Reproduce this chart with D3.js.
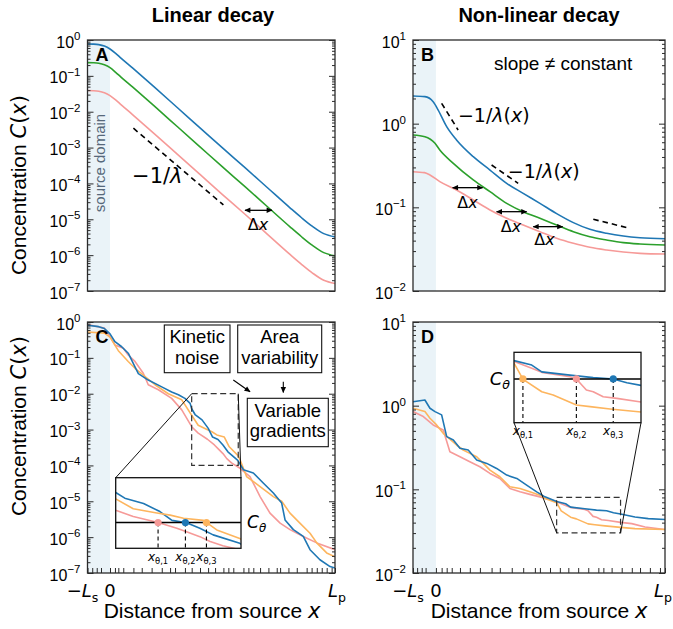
<!DOCTYPE html>
<html>
<head>
<meta charset="utf-8">
<script src="https://cdn.jsdelivr.net/npm/d3@7.9.0/dist/d3.min.js"></script>
<style>
  body { margin: 0; background: #fff; }
  svg text { font-family: "Liberation Sans", Arial, Helvetica, sans-serif; fill: #000; }
</style>
</head>
<body>
<script>
// x is position in units of L_p (source starts at -L_s = -0.1), values are log10 C(x)

// A: linear decay
const xA = [-0.1, -0.075, -0.05, -0.025, 0, 0.025, 0.05, 0.1, 0.2, 0.3, 0.4, 0.5, 0.6, 0.7, 0.8, 0.85, 0.9, 0.95, 1.0];
const aBlue = [-0.11, -0.115, -0.13, -0.17, -0.25, -0.37, -0.51, -0.78, -1.33, -1.89, -2.45, -3.01, -3.56, -4.12, -4.68, -4.95, -5.20, -5.40, -5.49];
const aGreen = [-0.63, -0.635, -0.65, -0.69, -0.77, -0.90, -1.04, -1.31, -1.86, -2.42, -2.98, -3.54, -4.09, -4.65, -5.21, -5.48, -5.73, -5.93, -6.02];
const aPink = [-1.41, -1.415, -1.43, -1.47, -1.55, -1.67, -1.81, -2.08, -2.63, -3.19, -3.75, -4.31, -4.86, -5.42, -5.98, -6.25, -6.50, -6.70, -6.79];

// B: non-linear decay
const bBlue = [[-0.1, 0.331], [-0.048, 0.323], [-0.012, 0.263], [0.010, 0.163], [0.047, -0.036], [0.090, -0.195], [0.163, -0.395], [0.236, -0.554], [0.309, -0.713], [0.381, -0.833], [0.454, -0.952], [0.527, -1.075], [0.600, -1.183], [0.672, -1.263], [0.745, -1.31], [0.818, -1.343], [0.891, -1.363], [1.0, -1.375]];
const bGreen = [[-0.1, -0.135], [-0.048, -0.156], [-0.004, -0.235], [0.017, -0.315], [0.076, -0.474], [0.163, -0.673], [0.236, -0.813], [0.309, -0.952], [0.381, -1.052], [0.454, -1.131], [0.527, -1.211], [0.600, -1.291], [0.672, -1.351], [0.745, -1.390], [0.818, -1.422], [0.891, -1.438], [1.0, -1.450]];
const bPink = [[-0.1, -0.574], [-0.05, -0.585], [-0.026, -0.613], [0.017, -0.693], [0.090, -0.793], [0.163, -0.912], [0.236, -1.032], [0.309, -1.131], [0.381, -1.211], [0.454, -1.291], [0.527, -1.370], [0.600, -1.430], [0.672, -1.478], [0.745, -1.510], [0.818, -1.534], [0.891, -1.550], [1.0, -1.558]];

// C: noisy linear decay
const cBlue = [[-0.1, -0.09], [-0.05, -0.13], [-0.025, -0.18], [0, -0.33], [0.022, -0.55], [0.052, -0.69], [0.081, -0.87], [0.111, -1.25], [0.126, -1.44], [0.170, -1.62], [0.230, -1.81], [0.274, -1.95], [0.304, -2.03], [0.333, -2.13], [0.356, -2.27], [0.363, -2.42], [0.378, -2.58], [0.409, -2.73], [0.436, -2.96], [0.456, -3.21], [0.480, -3.275], [0.502, -3.43], [0.524, -3.62], [0.568, -3.86], [0.593, -4.12], [0.637, -4.21], [0.681, -4.49], [0.726, -4.77], [0.763, -5.05], [0.778, -5.52], [0.815, -5.79], [0.859, -5.98], [0.889, -6.35], [0.933, -6.63], [0.978, -6.82], [1.0, -6.86]];
const cOrange = [[-0.1, -0.28], [-0.025, -0.31], [0, -0.42], [0.037, -0.80], [0.081, -1.10], [0.111, -1.29], [0.156, -1.52], [0.2, -1.75], [0.259, -2.0], [0.319, -2.17], [0.363, -2.60], [0.392, -2.88], [0.431, -3.0], [0.453, -3.06], [0.475, -3.15], [0.508, -3.21], [0.530, -3.48], [0.568, -3.72], [0.578, -3.84], [0.607, -4.31], [0.667, -4.59], [0.726, -4.87], [0.763, -5.0], [0.8, -5.33], [0.844, -5.61], [0.889, -5.89], [0.919, -6.16], [0.963, -6.44], [1.0, -6.55]];
const cPink = [[-0.1, -0.07], [-0.025, -0.17], [0, -0.41], [0.022, -0.64], [0.059, -0.73], [0.081, -0.92], [0.111, -1.10], [0.148, -1.43], [0.170, -1.75], [0.215, -1.89], [0.274, -2.13], [0.319, -2.45], [0.363, -2.92], [0.392, -3.10], [0.433, -3.27], [0.464, -3.43], [0.480, -3.53], [0.502, -3.67], [0.519, -3.81], [0.540, -3.93], [0.578, -4.08], [0.622, -4.31], [0.667, -4.87], [0.711, -5.33], [0.756, -5.61], [0.8, -5.79], [0.859, -5.98], [0.919, -6.16], [1.0, -6.35]];

// D: noisy non-linear decay
const dBlue = [[-0.1, 0.047], [-0.048, 0.068], [-0.026, -0.031], [-0.004, -0.071], [0.025, -0.11], [0.047, -0.37], [0.076, -0.41], [0.105, -0.51], [0.141, -0.53], [0.178, -0.65], [0.222, -0.69], [0.265, -0.75], [0.309, -0.83], [0.353, -0.87], [0.396, -0.95], [0.440, -1.03], [0.476, -1.09], [0.527, -1.145], [0.566, -1.172], [0.588, -1.213], [0.650, -1.233], [0.701, -1.248], [0.745, -1.256], [0.775, -1.279], [0.806, -1.295], [0.869, -1.33], [0.927, -1.35], [1.0, -1.36]];
const dOrange = [[-0.1, -0.03], [-0.048, -0.07], [-0.026, -0.15], [0.003, -0.23], [0.032, -0.33], [0.061, -0.40], [0.090, -0.47], [0.119, -0.53], [0.148, -0.57], [0.178, -0.61], [0.207, -0.69], [0.236, -0.77], [0.279, -0.85], [0.323, -0.97], [0.367, -0.99], [0.410, -1.03], [0.454, -1.07], [0.476, -1.11], [0.527, -1.16], [0.547, -1.258], [0.588, -1.333], [0.613, -1.353], [0.664, -1.413], [0.694, -1.423], [0.738, -1.437], [0.806, -1.455], [0.869, -1.47], [1.0, -1.48]];
const dPink = [[-0.1, -0.07], [-0.055, -0.13], [-0.012, -0.23], [0.032, -0.29], [0.061, -0.55], [0.105, -0.61], [0.148, -0.67], [0.192, -0.73], [0.236, -0.81], [0.279, -0.87], [0.323, -0.99], [0.367, -1.03], [0.410, -1.06], [0.454, -1.09], [0.498, -1.12], [0.529, -1.152], [0.566, -1.192], [0.588, -1.216], [0.650, -1.242], [0.664, -1.256], [0.686, -1.323], [0.701, -1.333], [0.723, -1.363], [0.753, -1.373], [0.806, -1.395], [0.855, -1.41], [0.913, -1.45], [1.0, -1.48]];

// threshold levels and zoom windows (log10)
const thetaC = -3.27;
const thetaD = -1.256;
const zoomC = { x: [0.363, 0.570], v: [-4, -2] };
const zoomD = { x: [0.527, 0.806], v: [-1.52, -1.095] };

// x tick positions along the bottom of C and D
const ticksC = [-0.1, -0.079, -0.059, -0.04, 0, 0.022, 0.037, 0.059, 0.104, 0.141, 0.185, 0.230, 0.267, 0.289, 0.333, 0.363, 0.4, 0.436, 0.467, 0.504, 0.526, 0.548, 0.593, 0.615, 0.637, 0.667, 0.704, 0.741, 0.756, 0.793, 0.830, 0.874, 0.896, 0.919, 0.941, 0.963, 0.985, 1.0];
const ticksD = [-0.1, -0.082, -0.062, -0.045, 0, 0.025, 0.047, 0.069, 0.105, 0.148, 0.192, 0.243, 0.279, 0.331, 0.381, 0.432, 0.454, 0.498, 0.541, 0.578, 0.621, 0.665, 0.709, 0.731, 0.767, 0.811, 0.855, 0.891, 0.934, 0.978, 1.0];

const BLUE = '#1f77b4', GREEN = '#2ca02c', PINK = '#f69a98', ORANGE = '#fdb55e';
const SHADE = '#eaf3f8', FRAME = '#2b2b2b';
const MATH = '"DejaVu Sans", sans-serif';

const svg = d3.select('body').append('svg').attr('width', 673).attr('height', 629);
const defs = svg.append('defs');
defs.append('marker').attr('id', 'ah')
  .attr('viewBox', '0 0 10 10').attr('refX', 9).attr('refY', 5)
  .attr('markerWidth', 7).attr('markerHeight', 6).attr('markerUnits', 'userSpaceOnUse')
  .attr('orient', 'auto-start-reverse')
  .append('path').attr('d', 'M0,0.5 L10,5 L0,9.5 z').attr('fill', '#000');

// text with italic / sub / superscript pieces
function rich(g, x, y, size, parts, anchor = 'start', family = MATH) {
  const t = g.append('text').attr('x', x).attr('y', y).attr('font-size', size)
    .attr('text-anchor', anchor).style('font-family', family);
  let shift = 0;
  parts.forEach(([s, kind = '']) => {
    const sp = t.append('tspan').text(s);
    let target = 0;
    if (kind.includes('sub')) { target = size * 0.25; sp.attr('font-size', size * 0.7); }
    if (kind.includes('sup')) { target = -size * 0.45; sp.attr('font-size', size * 0.7); }
    if (target !== shift) { sp.attr('dy', target - shift); shift = target; }
    if (kind.includes('it')) sp.attr('font-style', 'italic');
  });
  return t;
}

function panel(key, box, exps) {
  const [x0, y0, x1, y1] = box;
  const x = d3.scaleLinear().domain([-0.1, 1]).range([x0, x1]);
  const y = d3.scaleLog().domain([10 ** exps[0], 10 ** exps[1]]).range([y1, y0]);
  const g = svg.append('g');
  defs.append('clipPath').attr('id', 'clip' + key).append('rect')
    .attr('x', x0).attr('y', y0).attr('width', x1 - x0).attr('height', y1 - y0);
  g.append('rect').attr('x', x(-0.1)).attr('y', y0)
    .attr('width', x(0) - x(-0.1)).attr('height', y1 - y0).attr('fill', SHADE);
  const plot = g.append('g').attr('clip-path', `url(#clip${key})`);
  const over = svg.append('g');
  return { key, x, y, g, plot, over, box, exps };
}

function finishPanel(p, letter, xticks) {
  const [x0, y0, x1, y1] = p.box;
  const ax = svg.append('g').attr('color', FRAME);
  const majors = d3.range(p.exps[0], p.exps[1] + 1).map(e => 10 ** e);
  const minors = p.y.ticks().filter(v => !majors.some(m => Math.abs(v / m - 1) < 1e-6));
  const add = (vals, len) => {
    ax.append('g').attr('transform', `translate(${x0},0)`)
      .call(d3.axisRight(p.y).tickValues(vals).tickSize(len).tickFormat(''))
      .call(s => s.select('.domain').remove());
    ax.append('g').attr('transform', `translate(${x1},0)`)
      .call(d3.axisLeft(p.y).tickValues(vals).tickSize(len).tickFormat(''))
      .call(s => s.select('.domain').remove());
  };
  add(majors, 6);
  add(minors, 3);
  if (xticks) {
    ax.append('g').attr('transform', `translate(0,${y1})`)
      .call(d3.axisTop(p.x).tickValues(xticks).tickSize(5).tickFormat(''))
      .call(s => s.select('.domain').remove());
  }
  ax.selectAll('line').attr('stroke-width', 1);
  ax.append('rect').attr('x', x0).attr('y', y0).attr('width', x1 - x0).attr('height', y1 - y0)
    .attr('fill', 'none').attr('stroke', FRAME).attr('stroke-width', 1.3);
  majors.forEach((m, i) => {
    const e = p.exps[0] + i;
    const t = ax.append('text').attr('x', x0 - 7).attr('y', p.y(m) + 7.5)
      .attr('text-anchor', 'end').attr('font-size', 16);
    t.append('tspan').text('10');
    t.append('tspan').attr('dy', -7.5).attr('font-size', 11.5).text(e < 0 ? '\u2212' + (-e) : e);
  });
  ax.append('text').attr('x', x0 + 8).attr('y', y0 + 21).attr('font-size', 18)
    .attr('font-weight', 'bold').text(letter);
}

const pts = (xs, vs) => xs.map((v, i) => [v, vs[i]]);
function drawLine(g, xs, ys, data, color, curve = d3.curveLinear) {
  g.append('path').datum(data)
    .attr('d', d3.line().x(d => xs(d[0])).y(d => ys(10 ** d[1])).curve(curve))
    .attr('fill', 'none').attr('stroke', color).attr('stroke-width', 1.6)
    .attr('stroke-linejoin', 'round');
}
function dashed(g, p, a, b) {
  g.append('line').attr('x1', p.x(a[0])).attr('y1', p.y(10 ** a[1]))
    .attr('x2', p.x(b[0])).attr('y2', p.y(10 ** b[1]))
    .attr('stroke', '#000').attr('stroke-width', 1.6).attr('stroke-dasharray', '5.5,4');
}
function dxArrow(g, p, xa, xb, v) {
  g.append('line').attr('x1', p.x(xa)).attr('x2', p.x(xb))
    .attr('y1', p.y(10 ** v)).attr('y2', p.y(10 ** v))
    .attr('stroke', '#000').attr('stroke-width', 1.3)
    .attr('marker-start', 'url(#ah)').attr('marker-end', 'url(#ah)');
}
function crossing(series, level) {
  for (let i = 1; i < series.length; i++) {
    const [xa, va] = series[i - 1], [xb, vb] = series[i];
    if (va >= level && vb <= level) return va === vb ? xa : xa + (va - level) / (va - vb) * (xb - xa);
  }
  return null;
}

function inset(p, rect, zoom, series, level, side, thetaLabelLeft) {
  const [ix0, iy0, ix1, iy1] = rect;
  const xs = d3.scaleLinear().domain(zoom.x).range([ix0, ix1]);
  const ys = d3.scaleLog().domain([10 ** zoom.v[0], 10 ** zoom.v[1]]).range([iy1, iy0]);
  const g = p.over;
  // zoom window in the main axes
  const bx0 = p.x(zoom.x[0]), bx1 = p.x(zoom.x[1]);
  const byTop = p.y(10 ** zoom.v[1]), byBot = p.y(10 ** zoom.v[0]);
  g.append('rect').attr('x', bx0).attr('y', byTop).attr('width', bx1 - bx0).attr('height', byBot - byTop)
    .attr('fill', 'none').attr('stroke', '#333').attr('stroke-width', 1.2).attr('stroke-dasharray', '6,3.5');
  const by = side === 'top' ? byTop : byBot, iy = side === 'top' ? iy0 : iy1;
  g.append('line').attr('x1', bx0).attr('y1', by).attr('x2', ix0).attr('y2', iy).attr('stroke', '#111').attr('stroke-width', 1);
  g.append('line').attr('x1', bx1).attr('y1', by).attr('x2', ix1).attr('y2', iy).attr('stroke', '#111').attr('stroke-width', 1);

  g.append('rect').attr('x', ix0).attr('y', iy0).attr('width', ix1 - ix0).attr('height', iy1 - iy0).attr('fill', '#fff');
  defs.append('clipPath').attr('id', 'inset' + p.key).append('rect')
    .attr('x', ix0).attr('y', iy0).attr('width', ix1 - ix0).attr('height', iy1 - iy0);
  const ig = g.append('g').attr('clip-path', `url(#inset${p.key})`);
  series.forEach(([data, color]) => drawLine(ig, xs, ys, data, color));
  const ly = ys(10 ** level);
  g.append('line').attr('x1', ix0).attr('x2', ix1).attr('y1', ly).attr('y2', ly)
    .attr('stroke', '#000').attr('stroke-width', 1.6);
  const hits = series.map(([data, color]) => ({ x: crossing(data, level), color }))
    .sort((a, b) => a.x - b.x);
  hits.forEach((h, i) => {
    const cx = xs(h.x);
    g.append('line').attr('x1', cx).attr('x2', cx).attr('y1', ly).attr('y2', iy1)
      .attr('stroke', '#000').attr('stroke-width', 1.1).attr('stroke-dasharray', '4,3');
    g.append('circle').attr('cx', cx).attr('cy', ly).attr('r', 3.6).attr('fill', h.color);
    rich(g, cx, iy1 + 12.5, 12, [['x', 'it'], ['\u03b8,' + (i + 1), 'sub']], 'middle').attr('fill', '#333');
  });
  g.append('rect').attr('x', ix0).attr('y', iy0).attr('width', ix1 - ix0).attr('height', iy1 - iy0)
    .attr('fill', 'none').attr('stroke', '#111').attr('stroke-width', 1.3);
  if (thetaLabelLeft) rich(g, ix0 - 4, ly + 6, 18, [['C', 'it'], ['\u03b8', 'it sub']], 'end');
  else rich(g, ix1 + 6, ly + 5, 17, [['C', 'it'], ['\u03b8', 'it sub']]);
}

// ---------- panels ----------
const pA = panel('A', [87.5, 40, 335, 291], [-7, 0]);
const pB = panel('B', [413, 40, 665, 291], [-2, 1]);
const pC = panel('C', [87.5, 322, 335, 573], [-7, 0]);
const pD = panel('D', [413, 322, 665, 573], [-2, 1]);

// A
pA.g.append('text').attr('transform', `translate(105,163) rotate(-90)`).attr('text-anchor', 'middle')
  .attr('font-size', 15).style('fill', '#56687a').text('source domain');
drawLine(pA.plot, pA.x, pA.y, pts(xA, aPink), PINK, d3.curveMonotoneX);
drawLine(pA.plot, pA.x, pA.y, pts(xA, aGreen), GREEN, d3.curveMonotoneX);
drawLine(pA.plot, pA.x, pA.y, pts(xA, aBlue), BLUE, d3.curveMonotoneX);
dashed(pA.over, pA, [0.104, -2.46], [0.504, -4.60]);
rich(pA.over, pA.x(0.098), pA.y(10 ** -3.98), 21, [['\u22121/'], ['\u03bb', 'it']]);
dxArrow(pA.over, pA, 0.6, 0.72, -4.75);
rich(pA.over, pA.x(0.658), pA.y(10 ** -5.29), 16, [['\u0394'], ['x', 'it']], 'middle');

// B
drawLine(pB.plot, pB.x, pB.y, bPink, PINK, d3.curveMonotoneX);
drawLine(pB.plot, pB.x, pB.y, bGreen, GREEN, d3.curveMonotoneX);
drawLine(pB.plot, pB.x, pB.y, bBlue, BLUE, d3.curveMonotoneX);
dashed(pB.over, pB, [0.025, 0.243], [0.097, -0.076]);
dashed(pB.over, pB, [0.243, -0.494], [0.359, -0.713]);
dashed(pB.over, pB, [0.687, -1.143], [0.847, -1.251]);
rich(pB.over, pB.x(0.096), pB.y(10 ** 0.02), 19, [['\u22121/'], ['\u03bb', 'it'], ['('], ['x', 'it'], [')']]);
rich(pB.over, pB.x(0.314), pB.y(10 ** -0.649), 19, [['\u22121/'], ['\u03bb', 'it'], ['('], ['x', 'it'], [')']]);
[[0.073, 0.204, -0.765, 0.138, -1.008], [0.265, 0.396, -1.052, 0.328, -1.295], [0.425, 0.553, -1.231, 0.474, -1.45]]
  .forEach(([a, b, v, lx, lv]) => {
    dxArrow(pB.over, pB, a, b, v);
    rich(pB.over, pB.x(lx), pB.y(10 ** lv), 16, [['\u0394'], ['x', 'it']], 'middle');
  });
pB.over.append('text').attr('x', 494).attr('y', 70).attr('font-size', 19).text('slope \u2260 constant');

// C
drawLine(pC.plot, pC.x, pC.y, cPink, PINK);
drawLine(pC.plot, pC.x, pC.y, cOrange, ORANGE);
drawLine(pC.plot, pC.x, pC.y, cBlue, BLUE);
inset(pC, [115.7, 477.7, 241, 548.3], zoomC, [[cPink, PINK], [cBlue, BLUE], [cOrange, ORANGE]], thetaC, 'top', false);
function textBox(g, x0, y0, x1, y1, lines, baselines) {
  g.append('rect').attr('x', x0).attr('y', y0).attr('width', x1 - x0).attr('height', y1 - y0)
    .attr('fill', '#fff').attr('stroke', '#111').attr('stroke-width', 1.1);
  lines.forEach((s, i) => g.append('text').attr('x', (x0 + x1) / 2).attr('y', baselines[i])
    .attr('text-anchor', 'middle').attr('font-size', 18.5).text(s));
}
textBox(pC.over, 164.3, 325, 230, 372.7, ['Kinetic', 'noise'], [343, 364]);
textBox(pC.over, 237.7, 325, 321.7, 372.7, ['Area', 'variability'], [343, 364]);
textBox(pC.over, 247.3, 398.3, 328.3, 446.7, ['Variable', 'gradients'], [417, 437]);
[[233.3, 380, 250, 391.7], [283.3, 381.7, 283.3, 392.5]].forEach(([a, b, c, d]) =>
  pC.over.append('line').attr('x1', a).attr('y1', b).attr('x2', c).attr('y2', d)
    .attr('stroke', '#000').attr('stroke-width', 1.1).attr('marker-end', 'url(#ah)'));

// D
drawLine(pD.plot, pD.x, pD.y, dPink, PINK);
drawLine(pD.plot, pD.x, pD.y, dOrange, ORANGE);
drawLine(pD.plot, pD.x, pD.y, dBlue, BLUE);
inset(pD, [514, 352.3, 641, 422.7], zoomD, [[dOrange, ORANGE], [dPink, PINK], [dBlue, BLUE]], thetaD, 'bottom', true);

finishPanel(pA, 'A', null);
finishPanel(pB, 'B', null);
finishPanel(pC, 'C', ticksC);
finishPanel(pD, 'D', ticksD);

// ---------- titles and axis labels ----------
svg.append('text').attr('x', 213).attr('y', 22).attr('text-anchor', 'middle')
  .attr('font-size', 20).attr('font-weight', 'bold').text('Linear decay');
svg.append('text').attr('x', 539).attr('y', 22).attr('text-anchor', 'middle')
  .attr('font-size', 20).attr('font-weight', 'bold').text('Non-linear decay');

[185, 426].forEach(cy => {
  const t = svg.append('text').attr('transform', `translate(26,${cy}) rotate(-90)`)
    .attr('text-anchor', 'middle').attr('font-size', 21);
  t.append('tspan').text('Concentration ');
  t.append('tspan').style('font-family', MATH).attr('font-style', 'italic').text('C');
  t.append('tspan').style('font-family', MATH).text('(');
  t.append('tspan').style('font-family', MATH).attr('font-style', 'italic').text('x');
  t.append('tspan').style('font-family', MATH).text(')');
});

[[pC, 212], [pD, 539]].forEach(([p, cx]) => {
  const t = svg.append('text').attr('x', cx).attr('y', 618).attr('text-anchor', 'middle').attr('font-size', 21);
  t.append('tspan').text('Distance from source ');
  t.append('tspan').style('font-family', MATH).attr('font-style', 'italic').text('x');
  rich(svg, p.x(-0.1) - 5, 597, 18, [['\u2212'], ['L', 'it'], ['s', 'sub']], 'middle');
  rich(svg, p.x(0), 597, 18, [['0']], 'middle');
  rich(svg, Math.min(p.x(1) + 2, 663), 597, 18, [['L', 'it'], ['p', 'sub']], 'middle');
});
</script>
</body>
</html>
